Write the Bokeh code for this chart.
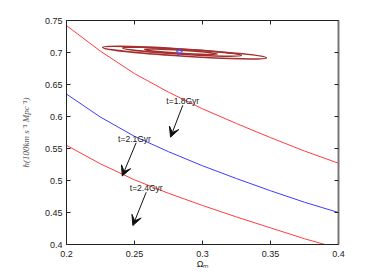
from bokeh.plotting import figure
from bokeh.models import Range1d, LinearAxis, FixedTicker, Arrow, VeeHead, Label
from bokeh.embed import file_html
from bokeh.resources import INLINE

# ---- data ----
omega = [0.2, 0.225, 0.25, 0.275, 0.3, 0.325, 0.35, 0.375, 0.4]
h_t18 = [0.742, 0.702, 0.667, 0.638, 0.612, 0.589, 0.567, 0.546, 0.527]
h_t21 = [0.635, 0.599, 0.569, 0.545, 0.523, 0.503, 0.484, 0.466, 0.450]
h_t24 = [0.555, 0.526, 0.501, 0.480, 0.461, 0.443, 0.426, 0.409, 0.394]

# confidence ellipses (center x, center y, width in Omega, height in h)
ell_x = [0.2868, 0.2849, 0.2842]
ell_y = [0.6997, 0.7012, 0.7012]
ell_w = [0.1206, 0.0875, 0.0537]
ell_h = [0.0110, 0.0078, 0.0047]

best_x = [0.2831]
best_y = [0.7008]

ann_text = ["t=1.8Gyr", "t=2.1Gyr", "t=2.4Gyr"]
ann_tx = [0.2855, 0.2500, 0.2586]
ann_ty = [0.624, 0.565, 0.488]
arr_x0 = [0.2855, 0.2512, 0.2586]
arr_y0 = [0.6176, 0.559, 0.4816]
arr_x1 = [0.2765, 0.2410, 0.2488]
arr_y1 = [0.5677, 0.507, 0.4297]

x_ticks = [0.2, 0.25, 0.3, 0.35, 0.4]
x_tick_labels = ["0.2", "0.25", "0.3", "0.35", "0.4"]
y_ticks = [0.4, 0.45, 0.5, 0.55, 0.6, 0.65, 0.7, 0.75]
y_tick_labels = ["0.4", "0.45", "0.5", "0.55", "0.6", "0.65", "0.7", "0.75"]

RED = "#ff3c3c"
BLUE = "#3c3cff"
DARKRED = "#a3302f"
FONT = "Liberation Sans"

p = figure(frame_width=272, frame_height=224,
           min_border_left=66, min_border_right=22,
           min_border_top=20, min_border_bottom=24,
           x_range=Range1d(0.2, 0.4), y_range=Range1d(0.4, 0.75),
           output_backend="svg", toolbar_location=None,
           x_axis_location=None, y_axis_location=None)
p.grid.visible = False
p.outline_line_color = None
p.background_fill_color = "white"
p.border_fill_color = "white"


def style_axis(ax, ticks, labels, show_labels=True):
    ax.ticker = FixedTicker(ticks=ticks)
    ax.major_label_overrides = {t: l for t, l in zip(ticks, labels)}
    ax.major_tick_in = 4
    ax.major_tick_out = 0
    ax.minor_tick_line_color = None
    ax.axis_line_color = "#222222"
    ax.major_tick_line_color = "#222222"
    ax.major_label_text_font = FONT
    ax.major_label_text_color = "#222222"
    ax.major_label_text_font_size = "9px"
    ax.major_label_standoff = 4
    if not show_labels:
        ax.major_label_text_color = None
        ax.major_label_standoff = 0


xb = LinearAxis(axis_label="Ωₘ")
style_axis(xb, x_ticks, x_tick_labels)
xb.major_label_standoff = 6
xb.axis_label_text_font = FONT
xb.axis_label_text_font_style = "normal"
xb.axis_label_text_font_size = "9px"
xb.axis_label_text_color = "#222222"
xb.axis_label_standoff = -1
p.add_layout(xb, "below")

yl = LinearAxis(axis_label="h(100km s⁻¹ Mpc⁻¹)")
style_axis(yl, y_ticks, y_tick_labels)
yl.axis_label_text_font = "Liberation Serif"
yl.axis_label_text_font_style = "italic"
yl.axis_label_text_font_size = "9px"
yl.axis_label_text_color = "#555555"
yl.axis_label_standoff = 11
p.add_layout(yl, "left")

xt = LinearAxis()
style_axis(xt, x_ticks, x_tick_labels, show_labels=False)
p.add_layout(xt, "above")

yr = LinearAxis()
style_axis(yr, y_ticks, y_tick_labels, show_labels=False)
yr.axis_line_color = "#777777"
yr.axis_line_width = 2
p.add_layout(yr, "right")

# curves
p.line(omega, h_t18, line_color=RED, line_width=1)
p.line(omega, h_t21, line_color=BLUE, line_width=1)
p.line(omega, h_t24, line_color=RED, line_width=1)

# ellipses
p.ellipse(x=ell_x, y=ell_y, width=ell_w, height=ell_h, angle=-0.063,
          fill_color=None, line_color=DARKRED, line_width=1.5)

p.scatter(best_x, best_y, marker="star", size=7, fill_color=None,
          line_color="#4a4aff", line_width=1)

# annotations
for t, tx, ty, x0, y0, x1, y1 in zip(ann_text, ann_tx, ann_ty, arr_x0, arr_y0, arr_x1, arr_y1):
    p.add_layout(Arrow(x_start=x0, y_start=y0, x_end=x1, y_end=y1,
                       line_color="#111111", line_width=1,
                       end=VeeHead(size=10, fill_color="#111111",
                                   line_color="#111111")))
    p.add_layout(Label(x=tx, y=ty, text=t, text_align="center",
                       text_baseline="middle", text_font=FONT,
                       text_font_size="8.5px", text_color="#222222"))

open("out.html", "w").write(file_html(p, INLINE))
